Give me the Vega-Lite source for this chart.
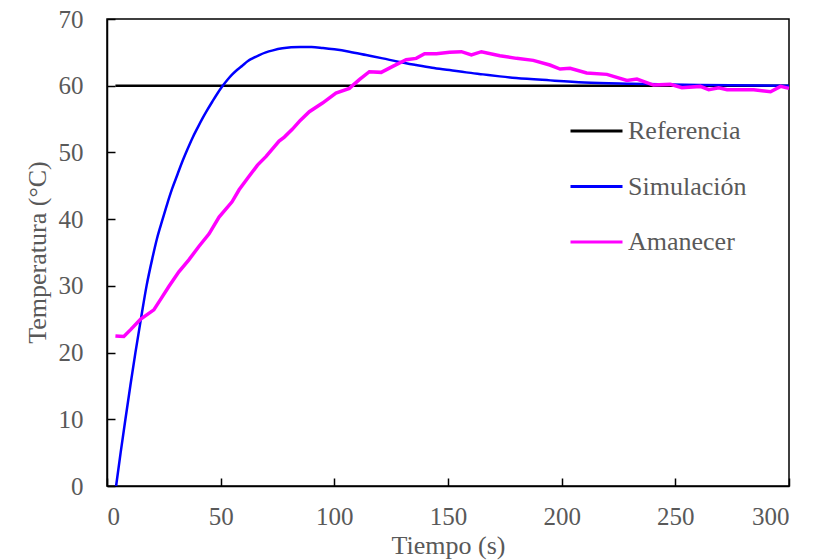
{
  "$schema": "https://vega.github.io/schema/vega-lite/v6.json",
  "width": 682,
  "height": 467,
  "autosize": "none",
  "padding": {"left": 107, "top": 19, "right": 47, "bottom": 74},
  "background": "white",
  "config": {
    "font": "Liberation Serif",
    "view": {"stroke": "black", "strokeWidth": 1.5},
    "axis": {
      "grid": false,
      "domainColor": "black",
      "domainWidth": 1.5,
      "tickColor": "black",
      "tickWidth": 1.5,
      "tickSize": -8,
      "labelFont": "Liberation Serif",
      "labelFontSize": 25,
      "labelColor": "#595959",
      "titleFont": "Liberation Serif",
      "titleFontSize": 26,
      "titleFontWeight": "normal",
      "titleColor": "#595959"
    },
    "legend": {
      "labelFont": "Liberation Serif",
      "labelFontSize": 26,
      "labelColor": "#595959"
    }
  },
  "data": {
    "values": [
      {"serie": "Referencia", "t": 3.7, "T": 60},
      {"serie": "Referencia", "t": 300, "T": 60},
      {"serie": "Simulación", "t": 4, "T": 0},
      {"serie": "Simulación", "t": 6, "T": 5},
      {"serie": "Simulación", "t": 8.1, "T": 10},
      {"serie": "Simulación", "t": 10.3, "T": 15.1},
      {"serie": "Simulación", "t": 12.5, "T": 20},
      {"serie": "Simulación", "t": 15, "T": 25.2},
      {"serie": "Simulación", "t": 17.4, "T": 30},
      {"serie": "Simulación", "t": 20, "T": 34.2},
      {"serie": "Simulación", "t": 22, "T": 37.1},
      {"serie": "Simulación", "t": 24.3, "T": 39.8},
      {"serie": "Simulación", "t": 26.5, "T": 42.3},
      {"serie": "Simulación", "t": 28.7, "T": 44.6},
      {"serie": "Simulación", "t": 31, "T": 46.7},
      {"serie": "Simulación", "t": 33.1, "T": 48.6},
      {"serie": "Simulación", "t": 35.3, "T": 50.4},
      {"serie": "Simulación", "t": 37.5, "T": 52.1},
      {"serie": "Simulación", "t": 40, "T": 53.8},
      {"serie": "Simulación", "t": 42, "T": 55.1},
      {"serie": "Simulación", "t": 44, "T": 56.3},
      {"serie": "Simulación", "t": 46.3, "T": 57.6},
      {"serie": "Simulación", "t": 48.5, "T": 58.8},
      {"serie": "Simulación", "t": 50.5, "T": 59.8},
      {"serie": "Simulación", "t": 53, "T": 60.9},
      {"serie": "Simulación", "t": 55.1, "T": 61.7},
      {"serie": "Simulación", "t": 57.3, "T": 62.4},
      {"serie": "Simulación", "t": 59.5, "T": 63.0},
      {"serie": "Simulación", "t": 62, "T": 63.7},
      {"serie": "Simulación", "t": 64, "T": 64.1},
      {"serie": "Simulación", "t": 67, "T": 64.6},
      {"serie": "Simulación", "t": 69.9, "T": 65.0},
      {"serie": "Simulación", "t": 73, "T": 65.3},
      {"serie": "Simulación", "t": 77.2, "T": 65.6},
      {"serie": "Simulación", "t": 81, "T": 65.75},
      {"serie": "Simulación", "t": 85, "T": 65.8},
      {"serie": "Simulación", "t": 90, "T": 65.8},
      {"serie": "Simulación", "t": 95, "T": 65.65},
      {"serie": "Simulación", "t": 100, "T": 65.45},
      {"serie": "Simulación", "t": 106.6, "T": 65.1},
      {"serie": "Simulación", "t": 114, "T": 64.6},
      {"serie": "Simulación", "t": 121.3, "T": 64.1},
      {"serie": "Simulación", "t": 128, "T": 63.6},
      {"serie": "Simulación", "t": 136, "T": 63.1},
      {"serie": "Simulación", "t": 143, "T": 62.7},
      {"serie": "Simulación", "t": 150.7, "T": 62.35},
      {"serie": "Simulación", "t": 158, "T": 62.0},
      {"serie": "Simulación", "t": 165.4, "T": 61.7},
      {"serie": "Simulación", "t": 172.8, "T": 61.4},
      {"serie": "Simulación", "t": 180, "T": 61.15},
      {"serie": "Simulación", "t": 195, "T": 60.8},
      {"serie": "Simulación", "t": 210, "T": 60.5},
      {"serie": "Simulación", "t": 231, "T": 60.3},
      {"serie": "Simulación", "t": 260, "T": 60.1},
      {"serie": "Simulación", "t": 300, "T": 60.0},
      {"serie": "Amanecer", "t": 3.7, "T": 22.5},
      {"serie": "Amanecer", "t": 7.4, "T": 22.4},
      {"serie": "Amanecer", "t": 10.3, "T": 23.4},
      {"serie": "Amanecer", "t": 14.7, "T": 25.0},
      {"serie": "Amanecer", "t": 20.6, "T": 26.4},
      {"serie": "Amanecer", "t": 24, "T": 28.2},
      {"serie": "Amanecer", "t": 27.2, "T": 29.9},
      {"serie": "Amanecer", "t": 31.6, "T": 32.1},
      {"serie": "Amanecer", "t": 36, "T": 33.9},
      {"serie": "Amanecer", "t": 40.4, "T": 35.9},
      {"serie": "Amanecer", "t": 44.9, "T": 37.8},
      {"serie": "Amanecer", "t": 49.3, "T": 40.3},
      {"serie": "Amanecer", "t": 55, "T": 42.6},
      {"serie": "Amanecer", "t": 58.1, "T": 44.4},
      {"serie": "Amanecer", "t": 62, "T": 46.2},
      {"serie": "Amanecer", "t": 66.2, "T": 48.1},
      {"serie": "Amanecer", "t": 70, "T": 49.4},
      {"serie": "Amanecer", "t": 75.7, "T": 51.7},
      {"serie": "Amanecer", "t": 78, "T": 52.3},
      {"serie": "Amanecer", "t": 81.6, "T": 53.5},
      {"serie": "Amanecer", "t": 85, "T": 54.8},
      {"serie": "Amanecer", "t": 89, "T": 56.1},
      {"serie": "Amanecer", "t": 94.8, "T": 57.4},
      {"serie": "Amanecer", "t": 100.7, "T": 58.9},
      {"serie": "Amanecer", "t": 106.6, "T": 59.6},
      {"serie": "Amanecer", "t": 111, "T": 60.9},
      {"serie": "Amanecer", "t": 115.4, "T": 62.1},
      {"serie": "Amanecer", "t": 120.6, "T": 62.0},
      {"serie": "Amanecer", "t": 125.7, "T": 62.9},
      {"serie": "Amanecer", "t": 131.6, "T": 63.9},
      {"serie": "Amanecer", "t": 136, "T": 64.1},
      {"serie": "Amanecer", "t": 139.7, "T": 64.8},
      {"serie": "Amanecer", "t": 144.9, "T": 64.8},
      {"serie": "Amanecer", "t": 150.7, "T": 65.0},
      {"serie": "Amanecer", "t": 155.9, "T": 65.1},
      {"serie": "Amanecer", "t": 160.3, "T": 64.6},
      {"serie": "Amanecer", "t": 164.7, "T": 65.1},
      {"serie": "Amanecer", "t": 172.8, "T": 64.5},
      {"serie": "Amanecer", "t": 180.1, "T": 64.1},
      {"serie": "Amanecer", "t": 187.5, "T": 63.8},
      {"serie": "Amanecer", "t": 194.8, "T": 63.1},
      {"serie": "Amanecer", "t": 199.3, "T": 62.5},
      {"serie": "Amanecer", "t": 203.7, "T": 62.6},
      {"serie": "Amanecer", "t": 211, "T": 61.9},
      {"serie": "Amanecer", "t": 219.9, "T": 61.7},
      {"serie": "Amanecer", "t": 228.7, "T": 60.8},
      {"serie": "Amanecer", "t": 233.1, "T": 61.0},
      {"serie": "Amanecer", "t": 240.4, "T": 60.1},
      {"serie": "Amanecer", "t": 247.8, "T": 60.2},
      {"serie": "Amanecer", "t": 252.9, "T": 59.7},
      {"serie": "Amanecer", "t": 261, "T": 59.9},
      {"serie": "Amanecer", "t": 264.7, "T": 59.4},
      {"serie": "Amanecer", "t": 269.1, "T": 59.7},
      {"serie": "Amanecer", "t": 272.8, "T": 59.4},
      {"serie": "Amanecer", "t": 284.5, "T": 59.4},
      {"serie": "Amanecer", "t": 291.9, "T": 59.1},
      {"serie": "Amanecer", "t": 296.3, "T": 59.9},
      {"serie": "Amanecer", "t": 300, "T": 59.6}
    ]
  },
  "encoding": {
    "x": {
      "field": "t", "type": "quantitative",
      "scale": {"domain": [0, 300], "nice": false},
      "axis": {"values": [0, 50, 100, 150, 200, 250, 300], "title": "Tiempo (s)", "labelPadding": 26, "titleX": 341, "titleY": 59, "titleBaseline": "middle"}
    },
    "y": {
      "field": "T", "type": "quantitative",
      "scale": {"domain": [0, 70], "nice": false},
      "axis": {"values": [0, 10, 20, 30, 40, 50, 60, 70], "title": "Temperatura (°C)", "labelPadding": 32, "titleX": -70, "titleY": 233, "titleAngle": -90, "titleBaseline": "middle"}
    },
    "color": {
      "field": "serie", "type": "nominal",
      "scale": {"domain": ["Referencia", "Simulación", "Amanecer"], "range": ["#000000", "#0000FF", "#FF00FF"]},
      "legend": {
        "title": null,
        "orient": "none",
        "legendX": 462,
        "legendY": 84.5,
        "padding": 0,
        "symbolType": "stroke",
        "symbolSize": 2704,
        "symbolStrokeWidth": 3,
        "rowPadding": 14.5,
        "labelOffset": 4,
        "labelLimit": 300
      }
    }
  },
  "layer": [
    {"transform": [{"filter": "datum.serie === 'Referencia'"}], "mark": {"type": "line", "strokeWidth": 2.5}},
    {"transform": [{"filter": "datum.serie === 'Simulación'"}], "mark": {"type": "line", "strokeWidth": 2.5, "interpolate": "monotone"}},
    {"transform": [{"filter": "datum.serie === 'Amanecer'"}], "mark": {"type": "line", "strokeWidth": 3.5}}
  ]
}
